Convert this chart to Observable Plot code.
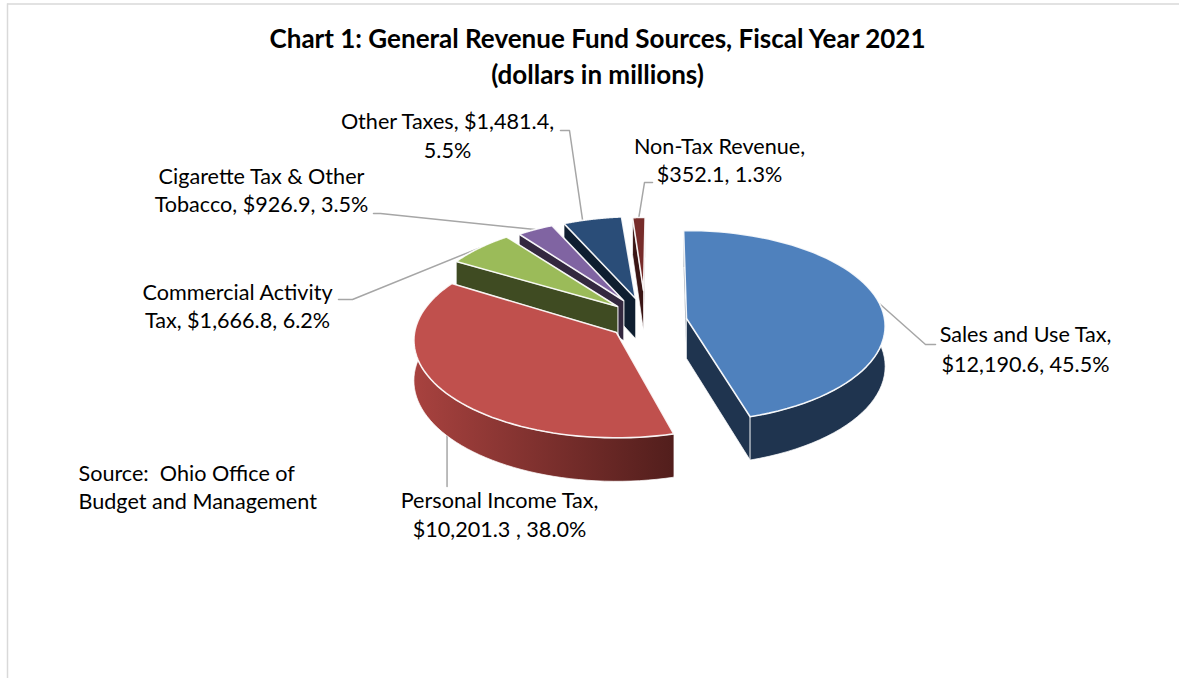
<!DOCTYPE html>
<html>
<head>
<meta charset="utf-8">
<style>html,body{margin:0;padding:0;background:#fff;overflow:hidden}</style>
<script src="https://cdn.jsdelivr.net/npm/d3@7"></script>
<script src="https://cdn.jsdelivr.net/npm/@observablehq/plot@0.6"></script>
</head>
<body>
<div id="chart"></div>
<script>
// ---- data ----
const categories = ["Sales and Use Tax","Personal Income Tax","Commercial Activity Tax","Cigarette Tax & Other Tobacco","Other Taxes","Non-Tax Revenue"];
const amounts = [12190.6, 10201.3, 1666.8, 926.9, 1481.4, 352.1];
const topColors = ["#4f81bd","#c0504d","#9bbb59","#8064a2","#2a4d78","#772c2a"];
const wallColors = ["#1f344f","url(#redWall)","#3f4b22","#33283f","#0f1e30","#3a1514"];
const titleLines = ["Chart 1: General Revenue Fund Sources, Fiscal Year 2021","(dollars in millions)"];
const sourceLines = ["Source:  Ohio Office of","Budget and Management"];
const labelLines = [
  ["Sales and Use Tax,","$12,190.6, 45.5%"],
  ["Personal Income Tax,","$10,201.3 , 38.0%"],
  ["Commercial Activity","Tax, $1,666.8, 6.2%"],
  ["Cigarette Tax & Other","Tobacco, $926.9, 3.5%"],
  ["Other Taxes, $1,481.4,","5.5%"],
  ["Non-Tax Revenue,","$352.1, 1.3%"]
];

// ---- layout of the drawing (not data) ----
const W = 1179, H = 678;
const RX = 198, RY = 95, PERSP = 0.08, DEPTH = 40;
const apexX = [686,616,617,623,635,643];
const apexY = [318,332,306,300,298,290];
const sliceScale = [1,1.02,0.98,0.93,0.93,0.83];
const angleNudge = [-0.9,1.2,-0.4,0,0,0.6];
const labelX = [1025,499,237,261,447,719];
const labelY = [[335,365],[501,530],[293,321],[177,205],[122,151],[147,175]];
const FONT = "Lato, Carlito, sans-serif";
const LABEL_SIZE = 21.6, TITLE_SIZE = 26;

// ---- geometry from the values ----
const total = d3.sum(amounts);
let acc = 0;
const slices = amounts.map((v, i) => {
  const a0 = acc / total * 360 + angleNudge[i];
  acc += v;
  const a1 = acc / total * 360 + angleNudge[i];
  return {i, a0, a1};
});
function onRim(i, deg) {
  const t = deg * Math.PI / 180, X = Math.sin(t), Y = -Math.cos(t), w = 1 - PERSP * Y;
  return {x: apexX[i] + sliceScale[i] * RX * X / w, y: apexY[i] + sliceScale[i] * RY * Y / w, w};
}
const down = p => ({x: p.x, y: p.y + DEPTH / p.w});
function sliceFaces(s) {
  const {i, a0, a1} = s;
  const apex = {x: apexX[i], y: apexY[i], w: 1};
  const arc = d3.range(0, 61).map(k => onRim(i, a0 + (a1 - a0) * k / 60));
  const first = arc[0], last = arc[arc.length - 1];
  const cutStart = {pts: [apex, first, down(first), down(apex)], fill: wallColors[i], sw: 0.8};
  const cutEnd = {pts: [apex, last, down(last), down(apex)], fill: wallColors[i], sw: 0.8};
  const rimWall = {pts: [...arc, ...arc.map(down).reverse()], fill: wallColors[i], sw: 0.8};
  const topFace = {pts: [apex, ...arc], fill: topColors[i], sw: 1.6};
  // The two large slices reach the near side and show their rim wall;
  // the far slices only show the cut wall that faces the viewer.
  if (i === 0) return [cutStart, cutEnd, rimWall, topFace];
  if (i === 1) return [cutEnd, cutStart, rimWall, topFace];
  return [cutEnd, cutStart, topFace];
}
// back-to-front
const paintOrder = [5,4,3,2,1,0];
const faces = paintOrder.flatMap(i => sliceFaces(slices[i]));

const mid = s => (s.a0 + s.a1) / 2;
const rimMid = i => onRim(i, mid(slices[i]));
const incomeFoot = down(onRim(1, 233));
const leaders = [
  [rimMid(0), {x:925,y:344}, {x:935,y:344}],
  [incomeFoot, {x:incomeFoot.x,y:486}],
  [rimMid(2), {x:352,y:299}, {x:338,y:299}],
  [rimMid(3), {x:380,y:213}, {x:373,y:213}],
  [onRim(4, 342), {x:569,y:130}, {x:560,y:130}],
  [rimMid(5), {x:644,y:182}, {x:652,y:182}]
];
const textRows = labelLines.flatMap((ls, i) => ls.map((t, k) => ({t, x: labelX[i], y: labelY[i][k]})));
const titleRows = titleLines.map((t, k) => ({t, x: 597, y: [39,75][k]}));
const sourceRows = sourceLines.map((t, k) => ({t, x: 78, y: [474,502][k]}));

const plot = Plot.plot({
  width: W, height: H, margin: 0,
  x: {domain: [0, W], range: [0, W], axis: null},
  y: {domain: [0, H], range: [0, H], axis: null},
  style: {background: "#fff", fontFamily: FONT},
  marks: [
    Plot.ruleY([3.5], {x1: 7, x2: W, stroke: "#d9d9d9", strokeWidth: 1.5}),
    Plot.ruleX([7], {y1: 3.5, y2: H, stroke: "#d9d9d9", strokeWidth: 1.5}),
    ...leaders.map(l => Plot.line(l, {x: "x", y: "y", stroke: "#a6a6a6", strokeWidth: 1.5, curve: "linear"})),
    ...faces.map(f => Plot.line(f.pts, {x: "x", y: "y", fill: f.fill, stroke: "#fff", strokeWidth: f.sw, strokeOpacity: 0.9, curve: "linear-closed"})),
    Plot.text(textRows, {x: "x", y: "y", text: "t", fontSize: LABEL_SIZE, fill: "#000", textAnchor: "middle", fontFamily: FONT}),
    Plot.text(sourceRows, {x: "x", y: "y", text: "t", fontSize: LABEL_SIZE, fill: "#000", textAnchor: "start", fontFamily: FONT}),
    Plot.text(titleRows, {x: "x", y: "y", text: "t", fontSize: TITLE_SIZE, fontWeight: "bold", fill: "#000", textAnchor: "middle", fontFamily: FONT})
  ]
});
const defs = d3.select(plot).insert("defs", ":first-child");
const grad = defs.append("linearGradient").attr("id", "redWall")
  .attr("gradientUnits", "userSpaceOnUse").attr("x1", 413).attr("x2", 673).attr("y1", 0).attr("y2", 0);
grad.append("stop").attr("offset", 0).attr("stop-color", "#a8423f");
grad.append("stop").attr("offset", 1).attr("stop-color", "#521e1c");
document.getElementById("chart").appendChild(plot);
</script>
</body>
</html>
